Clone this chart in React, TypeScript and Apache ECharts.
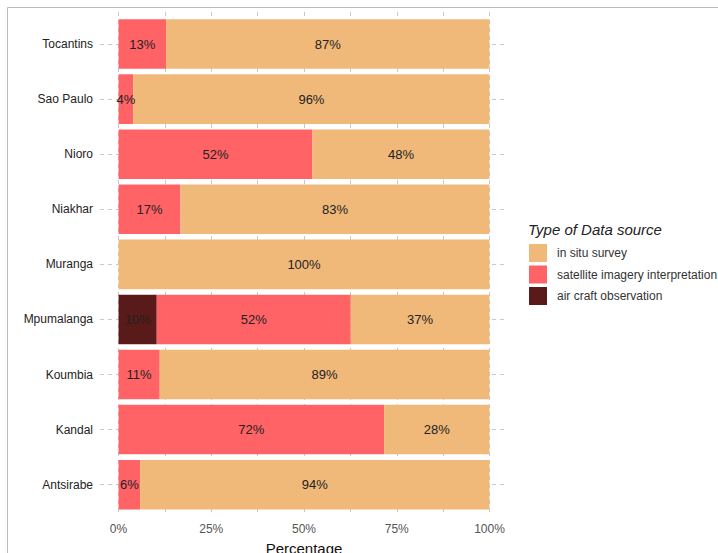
import React, { useEffect, useRef } from "react";
import * as echarts from "echarts";

const categories = ["Antsirabe", "Kandal", "Koumbia", "Mpumalanga", "Muranga", "Niakhar", "Nioro", "Sao Paulo", "Tocantins"];
const airCraft = [0, 0, 0, 10.3, 0, 0, 0, 0, 0];
const satellite = [5.8, 71.6, 11.1, 52.3, 0, 16.7, 52.3, 4.0, 12.8];
const inSitu = [94.2, 28.4, 88.9, 37.4, 100, 83.3, 47.7, 96.0, 87.2];
const xTicks = [0, 12.5, 25, 37.5, 50, 62.5, 75, 87.5, 100];

const FONT = "Liberation Sans, Arial, sans-serif";
const GRID_COLOR = "#c8c8c8";

export default function App() {
  const ref = useRef<HTMLDivElement>(null);
  useEffect(() => {
    if (!ref.current) return;
    const chart = echarts.init(ref.current, undefined, { renderer: "svg" });
    const labelCfg = {
      show: true,
      position: "inside",
      color: "#222",
      fontSize: 13,
      fontFamily: FONT,
      formatter: (p: any) => (p.value > 0 ? Math.round(p.value) + "%" : ""),
    };
    chart.setOption({
      animation: false,
      textStyle: { fontFamily: FONT },
      title: {
        text: "Type of Data source",
        left: 528,
        top: 222,
        padding: 0,
        textStyle: { fontSize: 15, fontStyle: "italic", fontWeight: "normal", color: "#222", fontFamily: FONT },
      },
      legend: {
        orient: "vertical",
        left: 529,
        top: 244,
        padding: 0,
        icon: "rect",
        itemWidth: 18,
        itemHeight: 18,
        itemGap: 3.5,
        data: ["in situ survey", "satellite imagery interpretation", "air craft observation"],
        textStyle: { fontSize: 12, color: "#333", fontFamily: FONT, padding: [0, 0, 0, 5] },
      },
      graphic: [
        {
          type: "rect",
          shape: { x: 7.5, y: 7.5, width: 730, height: 560 },
          style: { fill: "none", stroke: "#bbb", lineWidth: 1 },
          z: 0,
        },
      ],
      grid: [
        { left: 100, right: 210, top: 16.5, bottom: 40.8, outerBoundsMode: "none", containLabel: false },
        { left: 118.5, right: 228.5, top: 12, bottom: 37, outerBoundsMode: "none", containLabel: false },
      ],
      xAxis: [
        { type: "value", gridIndex: 0, min: -5, max: 105, show: false },
        {
          type: "value",
          gridIndex: 1,
          min: 0,
          max: 100,
          interval: 12.5,
          axisLine: { show: false },
          axisTick: { show: false },
          splitLine: { show: true, lineStyle: { color: GRID_COLOR, type: [4, 4], width: 1 } },
          axisLabel: {
            margin: 7,
            fontSize: 12,
            color: "#555",
            fontFamily: FONT,
            showMinLabel: true,
            showMaxLabel: true,
            formatter: (v: number) => (xTicks.indexOf(v) % 2 === 0 ? v + "%" : ""),
          },
          name: "Percentage",
          nameLocation: "middle",
          nameGap: 25,
          nameTextStyle: { fontSize: 15, color: "#111", fontFamily: FONT, verticalAlign: "top" },
        },
      ],
      yAxis: [
        {
          type: "category",
          gridIndex: 0,
          data: categories,
          axisLine: { show: false },
          axisTick: { show: false },
          splitLine: { show: false },
          axisLabel: { margin: 7, fontSize: 12, color: "#222", fontFamily: FONT },
        },
        { type: "value", gridIndex: 1, show: false, min: 0, max: 1 },
      ],
      series: [
        {
          name: "air craft observation",
          type: "bar",
          stack: "total",
          xAxisIndex: 0,
          yAxisIndex: 0,
          barCategoryGap: "10%",
          itemStyle: { color: "#5A1A19" },
          label: labelCfg,
          data: airCraft,
          markLine: {
            silent: true,
            symbol: "none",
            z: 1,
            label: { show: false },
            lineStyle: { color: GRID_COLOR, type: [4, 4], width: 1 },
            data: categories.map((c) => ({ yAxis: c })),
          },
        },
        {
          name: "satellite imagery interpretation",
          type: "bar",
          stack: "total",
          xAxisIndex: 0,
          yAxisIndex: 0,
          barCategoryGap: "10%",
          itemStyle: { color: "#FF6366" },
          label: labelCfg,
          data: satellite,
        },
        {
          name: "in situ survey",
          type: "bar",
          stack: "total",
          xAxisIndex: 0,
          yAxisIndex: 0,
          barCategoryGap: "10%",
          itemStyle: { color: "#F0B97A" },
          label: labelCfg,
          data: inSitu,
        },
      ],
    });
    return () => chart.dispose();
  }, []);
  return <div ref={ref} style={{ position: "absolute", left: 0, top: 0, width: 718, height: 553 }} />;
}
